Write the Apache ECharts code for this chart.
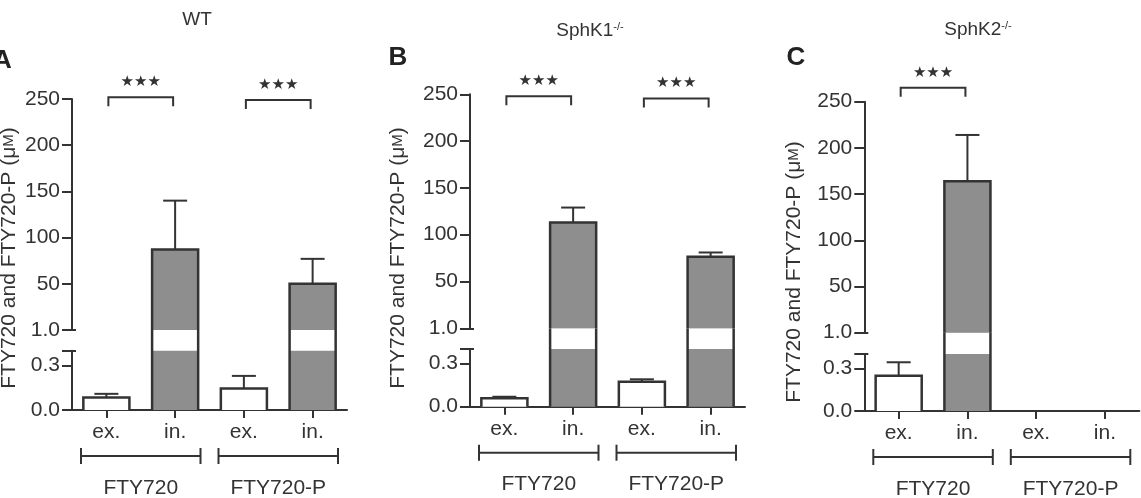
<!DOCTYPE html>
<html>
<head>
<meta charset="utf-8">
<script src="https://cdn.jsdelivr.net/npm/echarts@6/dist/echarts.min.js"></script>
<style>
html,body{margin:0;padding:0;background:#fff;}
#chart{width:1141px;height:498px;}
</style>
</head>
<body>
<div id="chart"></div>
<script>
// ---------- data ----------
const categories = ['ex.', 'in.', 'ex.', 'in.'];
const groupNames = ['FTY720', 'FTY720-P'];
const groupSpans = [[0, 1], [2, 3]];
const panelTitles = ['WT', 'SphK1', 'SphK2'];
const panelTitleSup = ['', '-/-', '-/-'];
const panelLetters = ['A', 'B', 'C'];
const yAxisTitle = 'FTY720 and FTY720-P (μ{s|M})';
const upperTicks = [0, 50, 100, 150, 200, 250];
const upperTickLabels = ['1.0', '50', '100', '150', '200', '250'];
const lowerTicks = [0, 0.3];
const lowerTickLabels = ['0.0', '0.3'];
const lowerMax = 0.4;
const upperMax = 250;

const meanA = [0.084, 87, 0.145, 50];
const errA  = [0.025, 53, 0.085, 27];
const meanB = [0.058, 113, 0.173, 76.5];
const errB  = [0.011, 16, 0.017, 4.5];
const meanC = [0.248, 164, null, null];
const errC  = [0.094, 50, null, null];
const sigA = [[0, 1, 252], [2, 3, 249]];
const sigB = [[0, 1, 248], [2, 3, 245.5]];
const sigC = [[0, 1, 265]];
const sigMark = '★★★';

// ---------- layout / style ----------
const FONT = "'Liberation Sans', Arial, Helvetica, sans-serif";
const INK = '#333333';
const BAR_GRAY = '#8e8e8e';
const BAR_RATIO = 0.67;
const LW = 2.5;
const layout = [
  {left: 72,    width: 275, uTop: 99,    uBot: 330,   lTop: 350.7, lBot: 410,
   title: [197, 20], letter: [2.5, 61], yname: [9, 258]},
  {left: 470,   width: 275, uTop: 94.3,  uBot: 328.3, lTop: 349,   lBot: 406.7,
   title: [590, 31], letter: [398, 58], yname: [398, 258]},
  {left: 864.3, width: 275, uTop: 101.7, uBot: 332.7, lTop: 354,   lBot: 411,
   title: [978, 30], letter: [796, 58], yname: [794, 272]}
];
const panels = [
  {mean: meanA, err: errA, sig: sigA},
  {mean: meanB, err: errB, sig: sigB},
  {mean: meanC, err: errC, sig: sigC}
];

const fillFor = i => (i % 2 === 0 ? '#ffffff' : BAR_GRAY);
const lineStyle = {stroke: INK, lineWidth: LW, fill: null};

function upperBars(params, api) {
  const i = api.value(0), v = api.value(1), e = api.value(2);
  const band = api.size([1, 0])[0];
  const bw = band * BAR_RATIO;
  const base = api.coord([i, 0]);
  const top = api.coord([i, v]);
  const et = api.coord([i, v + e]);
  const x0 = base[0] - bw / 2, x1 = base[0] + bw / 2;
  return {type: 'group', children: [
    {type: 'rect', shape: {x: x0, y: top[1], width: bw, height: base[1] - top[1]}, style: {fill: fillFor(i)}},
    {type: 'polyline', shape: {points: [[x0, base[1]], [x0, top[1]], [x1, top[1]], [x1, base[1]]]}, style: lineStyle},
    {type: 'line', shape: {x1: base[0], y1: top[1], x2: base[0], y2: et[1]}, style: {stroke: INK, lineWidth: 2}},
    {type: 'line', shape: {x1: base[0] - 12, y1: et[1], x2: base[0] + 12, y2: et[1]}, style: {stroke: INK, lineWidth: 2}}
  ]};
}

function makeLowerBars(gm) {
  return function (params, api) {
    const i = api.value(0), v = api.value(1), e = api.value(2);
    const band = api.size([1, 0])[0];
    const bw = band * BAR_RATIO;
    const base = api.coord([i, 0]);
    const clipped = v > gm;
    const top = api.coord([i, clipped ? gm : v]);
    const x0 = base[0] - bw / 2, x1 = base[0] + bw / 2;
    const ch = [{type: 'rect', shape: {x: x0, y: top[1], width: bw, height: base[1] - top[1]}, style: {fill: fillFor(i)}}];
    if (clipped) {
      const lt = api.coord([i, lowerMax]);
      ch.push({type: 'rect', shape: {x: x0, y: top[1], width: bw, height: lt[1] - top[1]}, style: {fill: '#ffffff'}});
      ch.push({type: 'line', shape: {x1: x0, y1: base[1], x2: x0, y2: top[1]}, style: lineStyle});
      ch.push({type: 'line', shape: {x1: x1, y1: base[1], x2: x1, y2: top[1]}, style: lineStyle});
    } else {
      const et = api.coord([i, v + e]);
      ch.push({type: 'polyline', shape: {points: [[x0, base[1]], [x0, top[1]], [x1, top[1]], [x1, base[1]]]}, style: lineStyle});
      ch.push({type: 'line', shape: {x1: base[0], y1: top[1], x2: base[0], y2: et[1]}, style: {stroke: INK, lineWidth: 2}});
      ch.push({type: 'line', shape: {x1: base[0] - 12, y1: et[1], x2: base[0] + 12, y2: et[1]}, style: {stroke: INK, lineWidth: 2}});
    }
    return {type: 'group', children: ch};
  };
}

function sigBrackets(params, api) {
  const a = api.coord([api.value(0), api.value(2)]);
  const b = api.coord([api.value(1), api.value(2)]);
  const xa = a[0] + 2, xb = b[0] - 2, y = a[1];
  return {type: 'group', children: [
    {type: 'polyline', shape: {points: [[xa, y + 9], [xa, y], [xb, y], [xb, y + 9]]}, style: {stroke: INK, lineWidth: 2, fill: null}},
    {type: 'text', x: (xa + xb) / 2, y: y - 15, style: {text: sigMark, fill: INK, fontSize: 15, fontFamily: 'DejaVu Sans',
      align: 'center', verticalAlign: 'middle', textAlign: 'center', textVerticalAlign: 'middle'}}
  ]};
}

function groupBrackets(params, api) {
  const band = api.size([1, 0])[0];
  const a = api.coord([api.value(0), 0]);
  const b = api.coord([api.value(1), 0]);
  const xa = a[0] - band / 2 + 9, xb = b[0] + band / 2 - 9;
  const y = a[1] + 46;
  return {type: 'group', children: [
    {type: 'line', shape: {x1: xa, y1: y, x2: xb, y2: y}, style: {stroke: INK, lineWidth: 2}},
    {type: 'line', shape: {x1: xa, y1: y - 8, x2: xa, y2: y + 8}, style: {stroke: INK, lineWidth: 2}},
    {type: 'line', shape: {x1: xb, y1: y - 8, x2: xb, y2: y + 8}, style: {stroke: INK, lineWidth: 2}},
    {type: 'text', x: (xa + xb) / 2, y: y + 32, style: {text: groupNames[params.dataIndex], fill: INK, fontSize: 21, fontFamily: FONT,
      align: 'center', verticalAlign: 'middle', textAlign: 'center', textVerticalAlign: 'middle'}}
  ]};
}

const grid = [], xAxis = [], yAxis = [], series = [], graphic = [];
const axisLine = {show: true, lineStyle: {color: INK, width: 2}};
const labelBase = {color: INK, fontSize: 21, fontFamily: FONT, margin: 12};

panels.forEach((P, p) => {
  const L = layout[p];
  const gm = lowerMax * (L.lBot - L.uBot) / (L.lBot - L.lTop);
  const gU = 3 * p, gL = 3 * p + 1, gB = 3 * p + 2;
  const common = {left: L.left, width: L.width, containLabel: false, outerBoundsMode: 'none'};
  grid.push(Object.assign({top: L.uTop, height: L.uBot - L.uTop}, common));
  grid.push(Object.assign({top: L.lTop, height: L.lBot - L.lTop}, common));
  grid.push(Object.assign({top: L.uBot, height: L.lBot - L.uBot}, common));

  xAxis.push({type: 'category', gridIndex: gU, data: categories, show: false});
  xAxis.push({type: 'category', gridIndex: gL, data: categories, axisLine: axisLine,
    axisTick: {show: true, alignWithLabel: true, length: 8, lineStyle: {color: INK, width: 2}},
    axisLabel: Object.assign({interval: 0}, labelBase)});
  xAxis.push({type: 'category', gridIndex: gB, data: categories, show: false});

  yAxis.push({type: 'value', gridIndex: gU, min: 0, max: upperMax, interval: 50, axisLine: axisLine,
    axisTick: {show: true, length: 10, lineStyle: {color: INK, width: 2}},
    axisLabel: Object.assign({formatter: v => upperTickLabels[upperTicks.indexOf(v)]}, labelBase),
    splitLine: {show: false}});
  yAxis.push({type: 'value', gridIndex: gL, min: 0, max: lowerMax, axisLine: axisLine,
    axisTick: {show: true, length: 10, customValues: lowerTicks.concat([lowerMax]), lineStyle: {color: INK, width: 2}},
    axisLabel: Object.assign({customValues: lowerTicks,
      formatter: v => lowerTickLabels[lowerTicks.findIndex(t => Math.abs(t - v) < 1e-9)]}, labelBase),
    splitLine: {show: false}});
  yAxis.push({type: 'value', gridIndex: gB, min: 0, max: gm, show: false, splitLine: {show: false}});

  const upperData = [], lowerData = [];
  P.mean.forEach((m, i) => {
    if (m === null) return;
    lowerData.push([i, m, P.err[i]]);
    if (m >= 1) upperData.push([i, m, P.err[i]]);
  });
  series.push({type: 'custom', xAxisIndex: gB, yAxisIndex: gB, data: lowerData, renderItem: makeLowerBars(gm), clip: false, z: 3});
  series.push({type: 'custom', xAxisIndex: gU, yAxisIndex: gU, data: upperData, renderItem: upperBars, clip: false, z: 3});
  series.push({type: 'custom', xAxisIndex: gU, yAxisIndex: gU, data: P.sig, renderItem: sigBrackets, clip: false, z: 3});
  series.push({type: 'custom', xAxisIndex: gL, yAxisIndex: gL, data: groupSpans.map((s, k) => [s[0], s[1], k]),
    renderItem: groupBrackets, clip: false, z: 3});

  graphic.push({type: 'text', x: L.title[0], y: L.title[1], style: {
    text: panelTitles[p] + (panelTitleSup[p] ? '{sup|' + panelTitleSup[p] + '}' : ''),
    fill: INK, fontSize: 19, fontFamily: FONT,
    align: 'center', verticalAlign: 'middle', textAlign: 'center', textVerticalAlign: 'middle',
    rich: {sup: {fontSize: 11, fontFamily: FONT, fill: INK, verticalAlign: 'top', padding: [0, 0, 8, 0]}}}});
  graphic.push({type: 'text', x: L.letter[0], y: L.letter[1], style: {
    text: panelLetters[p], fill: '#222', fontSize: 26, fontWeight: 'bold', fontFamily: FONT,
    align: 'center', verticalAlign: 'middle', textAlign: 'center', textVerticalAlign: 'middle'}});
  graphic.push({type: 'text', x: L.yname[0], y: L.yname[1], rotation: Math.PI / 2, style: {
    text: yAxisTitle, fill: INK, fontSize: 21, fontFamily: FONT,
    align: 'center', verticalAlign: 'middle', textAlign: 'center', textVerticalAlign: 'middle',
    rich: {s: {fontSize: 15, fontFamily: FONT, fill: INK}}}});
});

// small inside caps at the ends of each broken y-axis segment
panels.forEach((P, p) => {
  yAxis.push({type: 'value', gridIndex: 3 * p, min: 0, max: upperMax, position: 'left', offset: 0,
    axisLine: {show: false}, axisLabel: {show: false}, splitLine: {show: false},
    axisTick: {show: true, inside: true, length: 4, customValues: [0], lineStyle: {color: INK, width: 2}}});
  yAxis.push({type: 'value', gridIndex: 3 * p + 1, min: 0, max: lowerMax, position: 'left', offset: 0,
    axisLine: {show: false}, axisLabel: {show: false}, splitLine: {show: false},
    axisTick: {show: true, inside: true, length: 4, customValues: [lowerMax], lineStyle: {color: INK, width: 2}}});
});

const chart = echarts.init(document.getElementById('chart'), null, {renderer: 'canvas'});
chart.setOption({
  backgroundColor: '#ffffff',
  animation: false,
  textStyle: {fontFamily: FONT},
  grid, xAxis, yAxis, series, graphic
});
</script>
</body>
</html>
